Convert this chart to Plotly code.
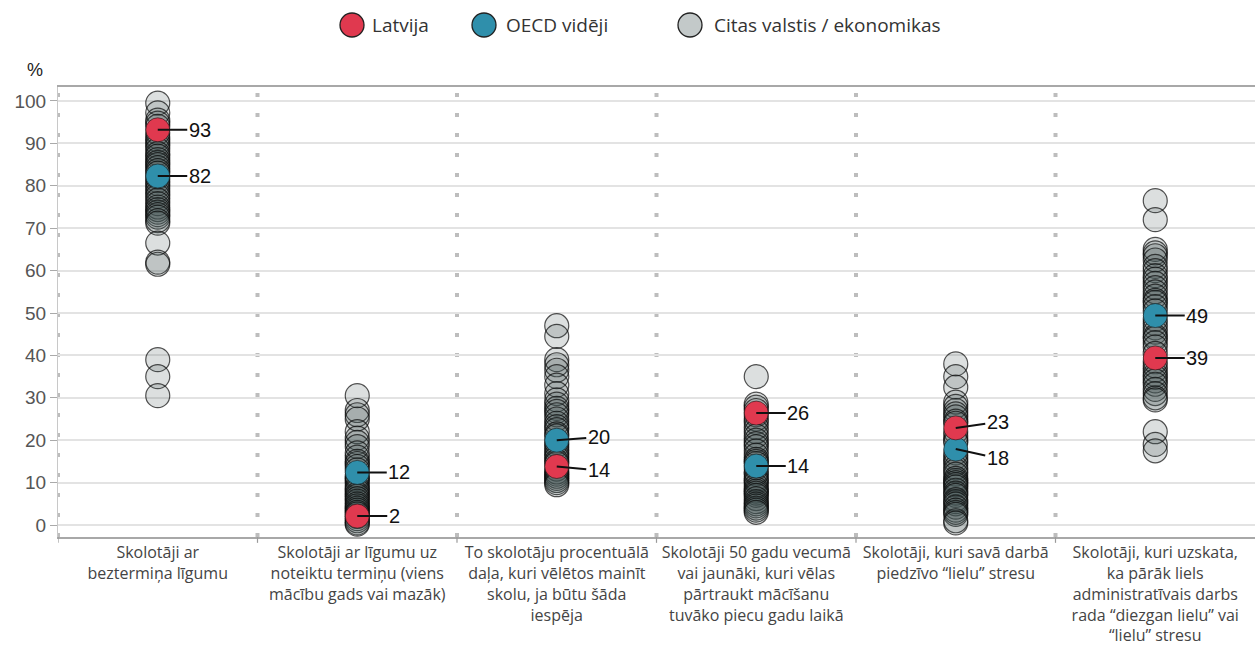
import plotly.graph_objects as go

categories = [
    "Skolotāji ar<br>beztermiņa līgumu",
    "Skolotāji ar līgumu uz<br>noteiktu termiņu (viens<br>mācību gads vai mazāk)",
    "To skolotāju procentuālā<br>daļa, kuri vēlētos mainīt<br>skolu, ja būtu šāda<br>iespēja",
    "Skolotāji 50 gadu vecumā<br>vai jaunāki, kuri vēlas<br>pārtraukt mācīšanu<br>tuvāko piecu gadu laikā",
    "Skolotāji, kuri savā darbā<br>piedzīvo “lielu” stresu",
    "Skolotāji, kuri uzskata,<br>ka pārāk liels<br>administratīvais darbs<br>rada “diezgan lielu” vai<br>“lielu” stresu",
]

others_1 = [99.5, 97.2, 95.5, 94.8, 94.0, 92.5, 91.5, 90.8, 90.0, 89.3, 88.5, 87.6, 87.0, 86.2,
            85.5, 85.0, 84.3, 83.6, 83.0, 82.0, 81.2, 80.5, 79.8, 79.0, 78.2, 77.5, 76.6, 75.8,
            75.0, 74.4, 73.8, 73.2, 72.6, 71.8, 71.2, 66.5, 62.0, 61.5, 39.0, 35.0, 30.5]
others_2 = [30.5, 27.0, 26.0, 25.0, 22.0, 20.5, 19.5, 18.5, 17.0, 16.0, 15.0, 14.5, 13.8, 13.0,
            11.5, 11.0, 10.5, 9.8, 9.0, 8.5, 8.0, 7.3, 6.8, 6.2, 5.6, 5.0, 4.5, 4.0, 3.5, 3.0,
            2.6, 2.0, 1.5, 1.0, 0.5, 0.2]
others_3 = [47.0, 44.5, 39.0, 37.8, 36.5, 35.0, 33.0, 31.0, 29.5, 28.5, 27.5, 26.8, 26.0, 25.0,
            24.0, 23.2, 22.5, 21.5, 21.0, 19.5, 18.8, 18.0, 17.2, 16.5, 15.8, 15.0, 14.5, 13.2,
            12.5, 12.0, 11.5, 11.0, 10.5, 10.0, 9.5]
others_4 = [35.0, 28.5, 27.8, 27.0, 26.0, 25.0, 24.2, 23.0, 22.0, 21.0, 20.0, 19.2, 18.5, 17.5,
            16.5, 15.5, 15.0, 14.5, 13.5, 12.5, 12.0, 11.0, 10.5, 10.0, 9.2, 8.5, 8.0, 7.5, 7.0,
            6.2, 5.5, 5.0, 4.5, 4.0, 3.5, 3.0]
others_5 = [38.0, 35.0, 32.5, 29.0, 28.0, 27.0, 26.2, 25.5, 24.5, 24.0, 22.0, 21.0, 20.0, 19.5,
            17.0, 16.0, 15.2, 14.5, 13.5, 12.8, 12.0, 11.0, 10.5, 10.0, 9.5, 9.0, 8.2, 7.5, 7.0,
            6.0, 5.5, 5.0, 4.2, 3.5, 3.0, 2.5, 1.0, 0.5]
others_6 = [76.5, 72.0, 65.0, 64.2, 63.5, 62.5, 61.0, 60.0, 58.8, 58.0, 57.0, 56.0, 55.0, 54.0,
            53.0, 52.5, 51.5, 50.5, 48.5, 47.5, 46.5, 45.5, 44.5, 44.0, 43.0, 42.0, 40.5, 38.5,
            37.5, 36.5, 35.5, 34.8, 34.0, 33.2, 32.0, 31.0, 30.0, 29.5, 22.0, 19.0, 17.5]
others = [others_1, others_2, others_3, others_4, others_5, others_6]

latvia = [93.2, 2.1, 13.8, 26.4, 22.9, 39.4]
oecd = [82.3, 12.4, 20.0, 13.9, 17.9, 49.4]
latvia_label_shift = [0, 0, 4, 0, -6, 0]   # px offset of label text
oecd_label_shift = [0, 0, -3, 0, 9, 0]

legend_names = ["Latvija", "OECD vidēji", "Citas valstis / ekonomikas"]

y_ticks = list(range(0, 101, 10))

RED = "#e0394f"
TEAL = "#2f8fab"
GREY = "rgba(60,75,75,0.18)"
LEGEND_GREY = "#c3c9c9"

W, H = 1255, 652
ML, MR, MT, MB = 58, 0, 87, 115
PW, PH = W - ML - MR, H - MT - MB


def px_x(p):
    return (p - ML) / PW


def px_y(p):
    return (H - MB - p) / PH


fig = go.Figure()

ox, oy = [], []
for i, vals in enumerate(others):
    ox += [i] * len(vals)
    oy += vals

fig.add_trace(go.Scatter(
    x=ox, y=oy, mode="markers", name=legend_names[2],
    marker=dict(size=24, color=GREY, line=dict(color="rgba(10,10,10,0.7)", width=1.2)),
    cliponaxis=False, showlegend=False,
))
fig.add_trace(go.Scatter(
    x=list(range(6)), y=oecd, mode="markers", name=legend_names[1],
    marker=dict(size=24, color=TEAL, line=dict(color="rgba(20,20,20,0.6)", width=1)),
    showlegend=False,
))
fig.add_trace(go.Scatter(
    x=list(range(6)), y=latvia, mode="markers", name=legend_names[0],
    marker=dict(size=24, color=RED, line=dict(color="rgba(20,20,20,0.6)", width=1)),
    showlegend=False,
))

annotations = []
for i in range(6):
    for v, sh in ((latvia[i], latvia_label_shift[i]), (oecd[i], oecd_label_shift[i])):
        annotations.append(dict(
            x=i, y=v, xref="x", yref="y", text=str(round(v)),
            showarrow=True, arrowhead=0, arrowwidth=2, arrowcolor="#111",
            ax=42 if v >= 10 else 37, ay=sh, standoff=0, startstandoff=0,
            font=dict(family="Liberation Sans, Arial", size=20, color="#111"),
        ))
annotations.append(dict(x=px_x(35), y=px_y(70), xref="paper", yref="paper", text="%",
                        showarrow=False, xanchor="center", yanchor="middle",
                        font=dict(family="Liberation Sans, Arial", size=18, color="#222")))

shapes = []
for b in [-0.5, 0.5, 1.5, 2.5, 3.5, 4.5]:
    shapes.append(dict(type="line", xref="x", yref="paper", x0=b, x1=b, y0=0, y1=1,
                       line=dict(color="#bdbdbd", width=4, dash="4px,16px"), layer="below"))
    shapes.append(dict(type="line", xref="x", yref="paper", x0=b, x1=b, y0=0, y1=-0.013,
                       line=dict(color="#9a9a9a", width=1.2)))

# legend drawn as circles + text to keep the large symbol size
legend_colors = [RED, TEAL, LEGEND_GREY]
legend_sym_x = [352, 484, 690]
legend_txt_x = [370, 504, 712]
legend_y = 25
for name, col, sx, tx in zip(legend_names, legend_colors, legend_sym_x, legend_txt_x):
    shapes.append(dict(type="circle", xref="paper", yref="paper",
                       xsizemode="pixel", ysizemode="pixel",
                       xanchor=px_x(sx), yanchor=px_y(legend_y),
                       x0=-12, x1=12, y0=-12, y1=12,
                       fillcolor=col, line=dict(color="#222", width=1.3)))
    annotations.append(dict(x=px_x(tx), y=px_y(legend_y), xref="paper", yref="paper",
                            text=name, showarrow=False, xanchor="left", yanchor="middle",
                            font=dict(family="Open Sans", size=19, color="#333")))

fig.update_layout(
    width=W, height=H,
    margin=dict(l=ML, r=MR, t=MT, b=MB),
    plot_bgcolor="white", paper_bgcolor="white",
    showlegend=False,
    xaxis=dict(range=[-0.5, 5.5], tickvals=list(range(6)), ticktext=categories,
               showgrid=False, zeroline=False, showline=True, linecolor="#a8a8a8", linewidth=2,
               mirror=True, ticks="", fixedrange=True, automargin=False, tickangle=0,
               tickfont=dict(family="Open Sans", size=16, color="#444")),
    yaxis=dict(range=[-2.83, 103.3], tickvals=y_ticks, showgrid=True, gridcolor="#e3e3e3",
               gridwidth=1.5, zeroline=False, showline=True, linecolor="#c8c8c8", linewidth=1,
               ticks="outside", ticklen=7, tickcolor="#aaaaaa", automargin=False,
               tickfont=dict(family="Liberation Sans, Arial", size=19, color="#555")),
    annotations=annotations,
    shapes=shapes,
)

fig.write_html("out.html", config={"responsive": False, "displayModeBar": False},
               post_script="document.body.style.margin='0';document.body.style.overflow='hidden';")
